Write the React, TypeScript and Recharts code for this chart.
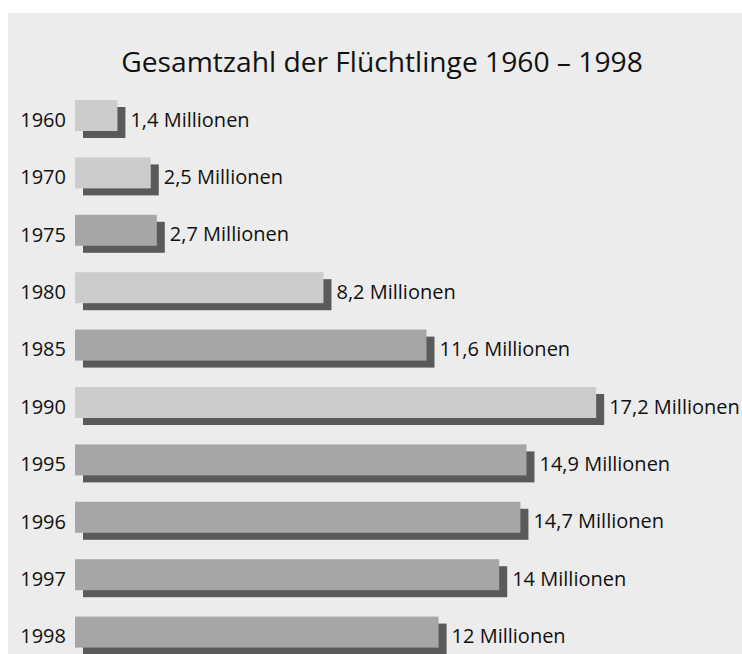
import { BarChart, Bar, XAxis, YAxis, LabelList, Cell } from 'recharts'

const years = ['1960', '1970', '1975', '1980', '1985', '1990', '1995', '1996', '1997', '1998']
const refugees = [1.4, 2.5, 2.7, 8.2, 11.6, 17.2, 14.9, 14.7, 14, 12]
const valueLabels = [
  '1,4 Millionen',
  '2,5 Millionen',
  '2,7 Millionen',
  '8,2 Millionen',
  '11,6 Millionen',
  '17,2 Millionen',
  '14,9 Millionen',
  '14,7 Millionen',
  '14 Millionen',
  '12 Millionen',
]

const LIGHT = '#cccccc'
const MID = '#a6a6a6'
const SHADOW = '#5a5a5a'
const barFills = [LIGHT, LIGHT, MID, LIGHT, MID, LIGHT, MID, MID, MID, MID]

const FONT = '"Open Sans", sans-serif'

const data = years.map((year, i) => ({ year, value: refugees[i], label: valueLabels[i] }))

function ShadowBar(props: any) {
  const { x, y, width, height, fill } = props
  return (
    <g>
      <rect x={x + 8} y={y + 7} width={width} height={height} fill={SHADOW} />
      <rect x={x} y={y} width={width} height={height} fill={fill} />
    </g>
  )
}

function YearTick(props: any) {
  const { x, y, payload } = props
  return (
    <text x={x} y={y + 4} dy="0.355em" textAnchor="end" fill="#111" fontSize={20} fontFamily={FONT}>
      {payload.value}
    </text>
  )
}

function ValueLabel(props: any) {
  const { x, y, width, height, index } = props
  return (
    <text
      x={x + width + 13}
      y={y + height / 2 + 4}
      dy="0.355em"
      fill="#111"
      fontSize={20}
      fontFamily={FONT}
    >
      {valueLabels[index]}
    </text>
  )
}

export default function App() {
  // fixed panel so nothing adds scroll overflow to the page
  return (
    <div
      style={{
        position: 'fixed',
        left: 8,
        top: 13,
        width: 734,
        height: 641,
        background: '#ececec',
        overflow: 'hidden',
      }}
    >
      <div
        style={{
          position: 'absolute',
          left: 0,
          top: 30,
          width: 748,
          textAlign: 'center',
          fontFamily: FONT,
          fontSize: 28.2,
          lineHeight: '36px',
          color: '#111',
        }}
      >
        Gesamtzahl der Flüchtlinge 1960 – 1998
      </div>
      <BarChart
        width={734}
        height={660}
        data={data}
        layout="vertical"
        margin={{ top: 74, right: 61, bottom: 12, left: 0 }}
      >
        <XAxis type="number" domain={[0, 20]} hide />
        <YAxis
          type="category"
          dataKey="year"
          width={67}
          axisLine={false}
          tickLine={false}
          tickSize={0}
          tickMargin={9}
          tick={<YearTick />}
        />
        <Bar dataKey="value" barSize={31} shape={<ShadowBar />} isAnimationActive={false}>
          {data.map((d, i) => (
            <Cell key={d.year} fill={barFills[i]} />
          ))}
          <LabelList dataKey="label" content={<ValueLabel />} />
        </Bar>
      </BarChart>
    </div>
  )
}
